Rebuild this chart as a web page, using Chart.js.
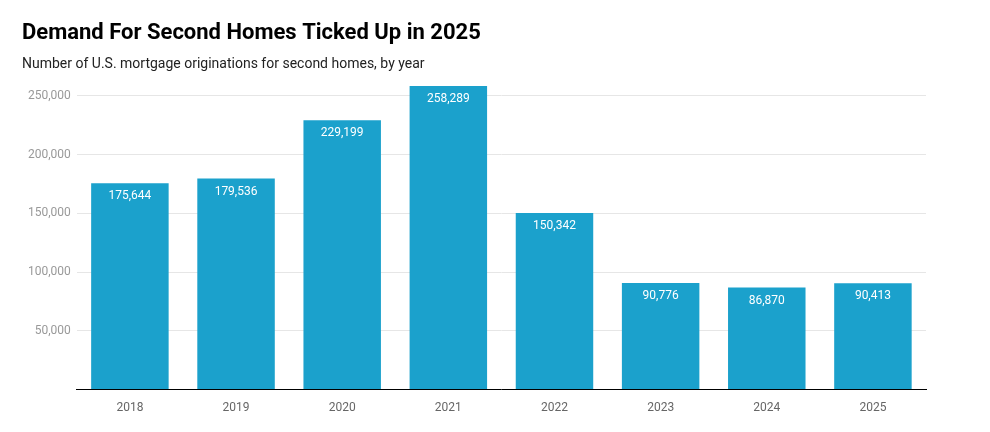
<!DOCTYPE html>
<html>
<head>
<meta charset="utf-8">
<script src="https://cdn.jsdelivr.net/npm/chart.js@4/dist/chart.umd.min.js"></script>
<style>
  html, body { margin: 0; padding: 0; background: #fff; }
  #wrap { width: 990px; height: 432px; }
</style>
</head>
<body>
<div id="wrap"><canvas id="chart"></canvas></div>
<script>
// Chart data
const years = ['2018', '2019', '2020', '2021', '2022', '2023', '2024', '2025'];
const originations = [175644, 179536, 229199, 258289, 150342, 90776, 86870, 90413];
const yTicks = [0, 50000, 100000, 150000, 200000, 250000];

// White value labels inside the top of each bar
const barLabels = {
    id: 'barLabels',
    afterDatasetsDraw(chart) {
        const ctx = chart.ctx;
        const meta = chart.getDatasetMeta(0);
        ctx.save();
        ctx.fillStyle = '#ffffff';
        ctx.font = '12px Roboto';
        ctx.textAlign = 'center';
        ctx.textBaseline = 'top';
        meta.data.forEach((bar, i) => {
            ctx.fillText(originations[i].toLocaleString('en-US'), bar.x, bar.y + 7);
        });
        ctx.restore();
    }
};

Chart.defaults.font.family = 'Roboto';

new Chart(document.getElementById('chart'), {
    type: 'bar',
    data: {
        labels: years,
        datasets: [{
            data: originations,
            backgroundColor: '#1ba1cc',
            barPercentage: 0.73,
            categoryPercentage: 1
        }]
    },
    options: {
        responsive: true,
        maintainAspectRatio: false,
        animation: false,
        layout: { padding: { left: 22, right: 64, top: 20, bottom: 14 } },
        plugins: {
            legend: { display: false },
            tooltip: { enabled: false },
            title: {
                display: true,
                text: 'Demand For Second Homes Ticked Up in 2025',
                align: 'start',
                color: '#000000',
                font: { size: 22, weight: 'bold' },
                padding: { top: 0, bottom: 10 }
            },
            subtitle: {
                display: true,
                text: 'Number of U.S. mortgage originations for second homes, by year',
                align: 'start',
                color: '#222222',
                font: { size: 14 },
                padding: { bottom: 12 }
            }
        },
        scales: {
            x: {
                grid: { display: false },
                border: { color: '#000000' },
                ticks: { color: '#666666', font: { size: 12 } }
            },
            y: {
                min: 0,
                max: 259000,
                afterBuildTicks(axis) {
                    axis.ticks = yTicks.map(v => ({ value: v }));
                },
                grid: { color: '#e6e6e6', drawTicks: false },
                border: { display: false },
                ticks: {
                    color: '#999999',
                    font: { size: 12 },
                    padding: 6,
                    callback: v => v === 0 ? '' : v.toLocaleString('en-US')
                }
            }
        }
    },
    plugins: [barLabels]
});
</script>
</body>
</html>
